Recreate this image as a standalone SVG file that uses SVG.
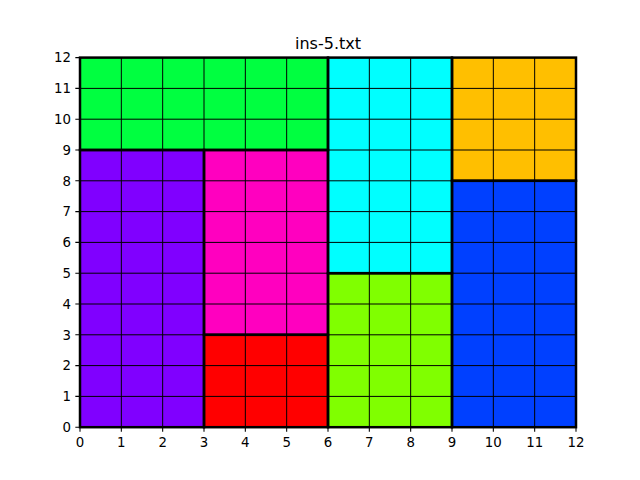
<svg xmlns="http://www.w3.org/2000/svg" width="640" height="480" viewBox="0 0 640 480">
<style>
text{font-family:"DejaVu Sans",sans-serif;fill:#000}
.t{font-size:16px;text-anchor:middle}
.xl{font-size:13.33px;text-anchor:middle}
.yl{font-size:13.33px;text-anchor:end}
.grid{stroke:#000;stroke-width:1;fill:none}
.reg{stroke:#000;stroke-width:2.5;fill:none}
.tick{stroke:#000;stroke-width:1.07}
</style>
<rect width="640" height="480" fill="#fff"/>
<text class="t" x="328" y="49">ins-5.txt</text>
<g id="fills">
<g id="green"><rect x="80" y="57.6" width="248" height="92.4" fill="#00ff40"/></g>
<g id="cyan"><rect x="328" y="57.6" width="124" height="215.6" fill="#00ffff"/></g>
<g id="orange"><rect x="452" y="57.6" width="124" height="123.2" fill="#ffbf00"/></g>
<g id="purple"><rect x="80" y="150" width="124" height="277.2" fill="#8000ff"/></g>
<g id="magenta"><rect x="204" y="150" width="124" height="184.8" fill="#ff00bf"/></g>
<g id="red"><rect x="204" y="334.8" width="124" height="92.4" fill="#ff0000"/></g>
<g id="lime"><rect x="328" y="273.2" width="124" height="154" fill="#80ff00"/></g>
<g id="blue"><rect x="452" y="180.8" width="124" height="246.4" fill="#0040ff"/></g>
</g>
<g id="cells" class="grid">
<path d="M121.33 57.6V427.2M162.67 57.6V427.2M204 57.6V427.2M245.33 57.6V427.2M286.67 57.6V427.2M328 57.6V427.2M369.33 57.6V427.2M410.67 57.6V427.2M452 57.6V427.2M493.33 57.6V427.2M534.67 57.6V427.2"/>
<path d="M80 396.4H576M80 365.6H576M80 334.8H576M80 304H576M80 273.2H576M80 242.4H576M80 211.6H576M80 180.8H576M80 150H576M80 119.2H576M80 88.4H576"/>
</g>
<g id="borders" class="reg">
<rect x="80" y="57.6" width="248" height="92.4"/>
<rect x="328" y="57.6" width="124" height="215.6"/>
<rect x="452" y="57.6" width="124" height="123.2"/>
<rect x="80" y="150" width="124" height="277.2"/>
<rect x="204" y="150" width="124" height="184.8"/>
<rect x="204" y="334.8" width="124" height="92.4"/>
<rect x="328" y="273.2" width="124" height="154"/>
<rect x="452" y="180.8" width="124" height="246.4"/>
</g>
<g id="ticks" class="tick">
<path d="M80 427.2v4.67M121.33 427.2v4.67M162.67 427.2v4.67M204 427.2v4.67M245.33 427.2v4.67M286.67 427.2v4.67M328 427.2v4.67M369.33 427.2v4.67M410.67 427.2v4.67M452 427.2v4.67M493.33 427.2v4.67M534.67 427.2v4.67M576 427.2v4.67"/>
<path d="M80 427.2h-4.67M80 396.4h-4.67M80 365.6h-4.67M80 334.8h-4.67M80 304h-4.67M80 273.2h-4.67M80 242.4h-4.67M80 211.6h-4.67M80 180.8h-4.67M80 150h-4.67M80 119.2h-4.67M80 88.4h-4.67M80 57.6h-4.67"/>
</g>
<g id="xlabels">
<text class="xl" x="80" y="447">0</text>
<text class="xl" x="121.33" y="447">1</text>
<text class="xl" x="162.67" y="447">2</text>
<text class="xl" x="204" y="447">3</text>
<text class="xl" x="245.33" y="447">4</text>
<text class="xl" x="286.67" y="447">5</text>
<text class="xl" x="328" y="447">6</text>
<text class="xl" x="369.33" y="447">7</text>
<text class="xl" x="410.67" y="447">8</text>
<text class="xl" x="452" y="447">9</text>
<text class="xl" x="493.33" y="447">10</text>
<text class="xl" x="534.67" y="447">11</text>
<text class="xl" x="576" y="447">12</text>
</g>
<g id="ylabels">
<text class="yl" x="71" y="432">0</text>
<text class="yl" x="71" y="401.2">1</text>
<text class="yl" x="71" y="370.4">2</text>
<text class="yl" x="71" y="339.6">3</text>
<text class="yl" x="71" y="308.8">4</text>
<text class="yl" x="71" y="278">5</text>
<text class="yl" x="71" y="247.2">6</text>
<text class="yl" x="71" y="216.4">7</text>
<text class="yl" x="71" y="185.6">8</text>
<text class="yl" x="71" y="154.8">9</text>
<text class="yl" x="71" y="124">10</text>
<text class="yl" x="71" y="93.2">11</text>
<text class="yl" x="71" y="62.4">12</text>
</g>
</svg>
